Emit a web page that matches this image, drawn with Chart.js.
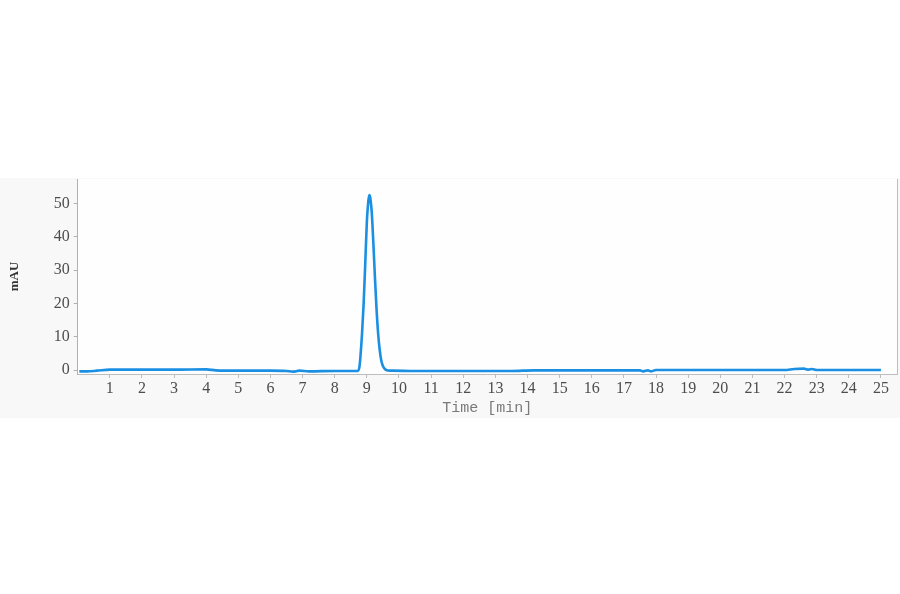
<!DOCTYPE html>
<html>
<head>
<meta charset="utf-8">
<title>Chromatogram</title>
<script src="https://cdn.jsdelivr.net/npm/chart.js@4.4.1/dist/chart.umd.min.js"></script>
<style>
    html, body { margin: 0; padding: 0; background: #ffffff; }
    #wrap { width: 900px; height: 594px; position: relative; }
</style>
</head>
<body>
<div id="wrap"><canvas id="chromChart"></canvas></div>
<script>
// Retention time (min) and detector signal (mAU)
const timeValues = [
    0.05, 0.3, 0.6, 1.0, 2.0, 3.0, 4.0, 4.3, 5.0, 6.0, 6.5, 6.7, 6.9, 7.2, 8.0, 8.5, 8.72,
    8.77, 8.80, 8.85, 8.90, 8.95, 9.00, 9.05, 9.08, 9.10, 9.15, 9.20, 9.25, 9.30, 9.35,
    9.40, 9.45, 9.50, 9.55, 9.62, 9.70, 9.80, 10.5, 12.0, 13.5, 14.2, 16.0, 17.5, 17.6,
    17.75, 17.85, 18.0, 20.0, 22.0, 22.3, 22.6, 22.75, 22.85, 23.0, 25.0
];
const signalValues = [
    -0.4, -0.4, -0.2, 0.1, 0.1, 0.1, 0.2, -0.1, -0.2, -0.2, -0.3, -0.5, -0.2, -0.4, -0.3, -0.3, -0.3,
    1.0, 4.0, 11.0, 20.0, 32.0, 44.5, 51.0, 52.5, 52.0, 47.5, 38.5, 28.0, 18.5, 11.0,
    6.0, 2.8, 1.2, 0.4, -0.1, -0.2, -0.2, -0.3, -0.3, -0.3, -0.1, -0.1, -0.1, -0.4,
    -0.1, -0.4, 0.0, 0.0, 0.0, 0.3, 0.4, 0.1, 0.3, 0.0, 0.0
];
const xTickValues = [1, 2, 3, 4, 5, 6, 7, 8, 9, 10, 11, 12, 13, 14, 15, 16, 17, 18, 19, 20, 21, 22, 23, 24, 25];
const yTickValues = [0, 10, 20, 30, 40, 50];

const points = timeValues.map((t, i) => ({ x: t, y: signalValues[i] }));

// faint panel behind the plot and the right frame line
const framePlugin = {
    id: "frame",
    beforeDraw(chart) {
        const { ctx, chartArea } = chart;
        ctx.save();
        ctx.fillStyle = "#f8f8f8";
        ctx.fillRect(0, 178, 900, 240);
        ctx.fillStyle = "#fefefe";
        ctx.fillRect(chartArea.left, chartArea.top, chartArea.right - chartArea.left, chartArea.bottom - chartArea.top);
        ctx.restore();
    },
    afterDraw(chart) {
        const { ctx, chartArea } = chart;
        ctx.save();
        ctx.strokeStyle = "#bdbdbd";
        ctx.lineWidth = 1;
        ctx.beginPath();
        ctx.moveTo(chartArea.right + 0.5, chartArea.top);
        ctx.lineTo(chartArea.right + 0.5, chartArea.bottom);
        ctx.stroke();
        ctx.restore();
    }
};

const ctx = document.getElementById("chromChart").getContext("2d");
new Chart(ctx, {
    type: "line",
    data: {
        datasets: [{
            label: "Signal",
            data: points,
            borderColor: "#1b8fe2",
            borderWidth: 2.6,
            pointRadius: 0,
            fill: false,
            cubicInterpolationMode: "monotone"
        }]
    },
    options: {
        responsive: true,
        maintainAspectRatio: false,
        animation: false,
        layout: { padding: { top: 179, right: 3, left: 0, bottom: 176 } },
        plugins: {
            legend: { display: false },
            tooltip: { enabled: false }
        },
        scales: {
            x: {
                type: "linear",
                min: 0,
                max: 25.5,
                afterFit: scale => { scale.height = 44; },
                afterBuildTicks: scale => { scale.ticks = xTickValues.map(v => ({ value: v })); },
                border: { display: true, color: "#bdbdbd", width: 1 },
                grid: { drawOnChartArea: false, drawTicks: true, tickLength: 4, color: "#bdbdbd" },
                ticks: {
                    padding: 1,
                    maxRotation: 0,
                    autoSkip: false,
                    color: "#4d4d4d",
                    font: { family: "Liberation Serif", size: 16 }
                },
                title: {
                    display: true,
                    text: "Time [min]",
                    color: "#7a7a7a",
                    padding: { top: 0, bottom: 1 },
                    font: { family: "Liberation Mono", size: 15 }
                }
            },
            y: {
                type: "linear",
                min: -1.2,
                max: 57.3,
                afterFit: scale => { scale.width = 77.7; },
                afterBuildTicks: scale => { scale.ticks = yTickValues.map(v => ({ value: v })); },
                border: { display: true, color: "#b0b0b0", width: 1 },
                grid: { drawOnChartArea: false, drawTicks: true, tickLength: 4, color: "#b0b0b0" },
                ticks: {
                    padding: 4,
                    color: "#4d4d4d",
                    font: { family: "Liberation Serif", size: 16 }
                },
                title: {
                    display: true,
                    text: "mAU",
                    color: "#333333",
                    padding: { top: 7, bottom: 0 },
                    font: { family: "Liberation Serif", size: 13, weight: "bold" }
                }
            }
        }
    },
    plugins: [framePlugin]
});
</script>
</body>
</html>
